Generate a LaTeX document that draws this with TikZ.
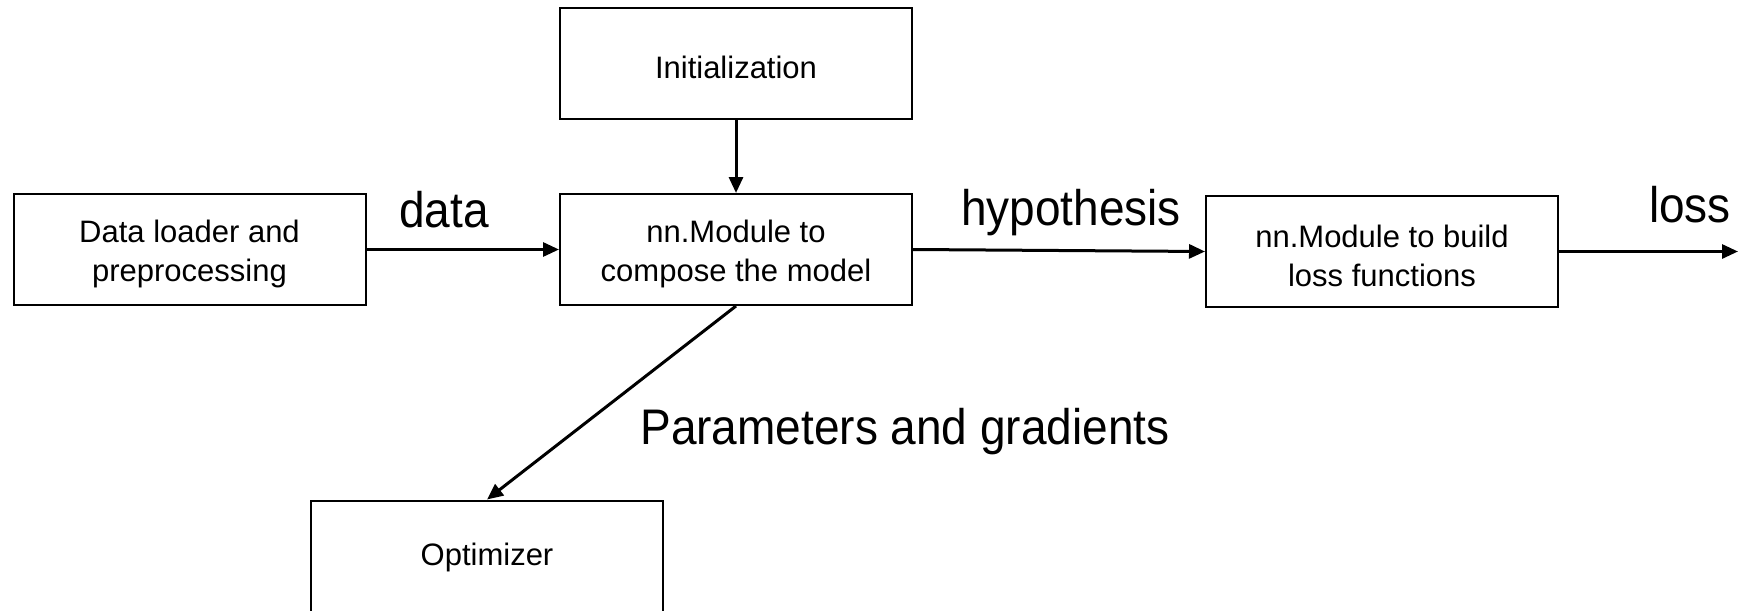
\documentclass[tikz,border=0pt]{standalone}
\usepackage{fontspec}
\setmainfont{Liberation Sans}
\usetikzlibrary{arrows.meta}
\begin{document}
\begin{tikzpicture}[x=1pt,y=-1pt,
  block/.style={draw, line width=2pt, inner sep=0pt,
    minimum width=352pt, minimum height=111pt},
  blocktext/.style={inner sep=0pt, align=center, yshift=-4pt,
    font=\fontsize{31}{39}\selectfont},
  flow/.style={line width=3pt, -{Triangle[length=16pt,width=14pt]}},
  biglabel/.style={inner sep=0pt, anchor=base, font=\fontsize{50}{60}\selectfont}]
\useasboundingbox (0,0) rectangle (1739,610);

% processing blocks
\node[block, label={[blocktext]center:Initialization}] (init) at (736,63.5) {};
\node[block, label={[blocktext]center:Data loader and\\preprocessing}] (data) at (189.5,249.5) {};
\node[block, label={[blocktext]center:nn.Module to\\compose the model}] (model) at (736,249.5) {};
\node[block, label={[blocktext]center:nn.Module to build\\loss functions}] (lossfn) at (1382,251.5) {};
\node[block, label={[blocktext,yshift=3pt]center:Optimizer}] (optim) at (487,556) {};
\coordinate (lossout) at (1738,251.5);

% connectors
\draw[flow] (init) -- (model);
\draw[flow] (data) -- (model);
\draw[flow] (model.east) -- (lossfn.west);
\draw[flow] (lossfn) -- (lossout);
\draw[flow] (model.south) -- (optim.north);

% connector labels
\node[biglabel] (ldata)  at (444,227)  {\scalebox{0.92}[1]{data}};
\node[biglabel] (lhyp)   at (1071,225) {\scalebox{0.92}[1]{hypothesis}};
\node[biglabel] (lloss)  at (1690,222) {\scalebox{0.92}[1]{loss}};
\node[biglabel] (lparam) at (905,444)  {\scalebox{0.92}[1]{Parameters and gradients}};
\end{tikzpicture}
\end{document}
